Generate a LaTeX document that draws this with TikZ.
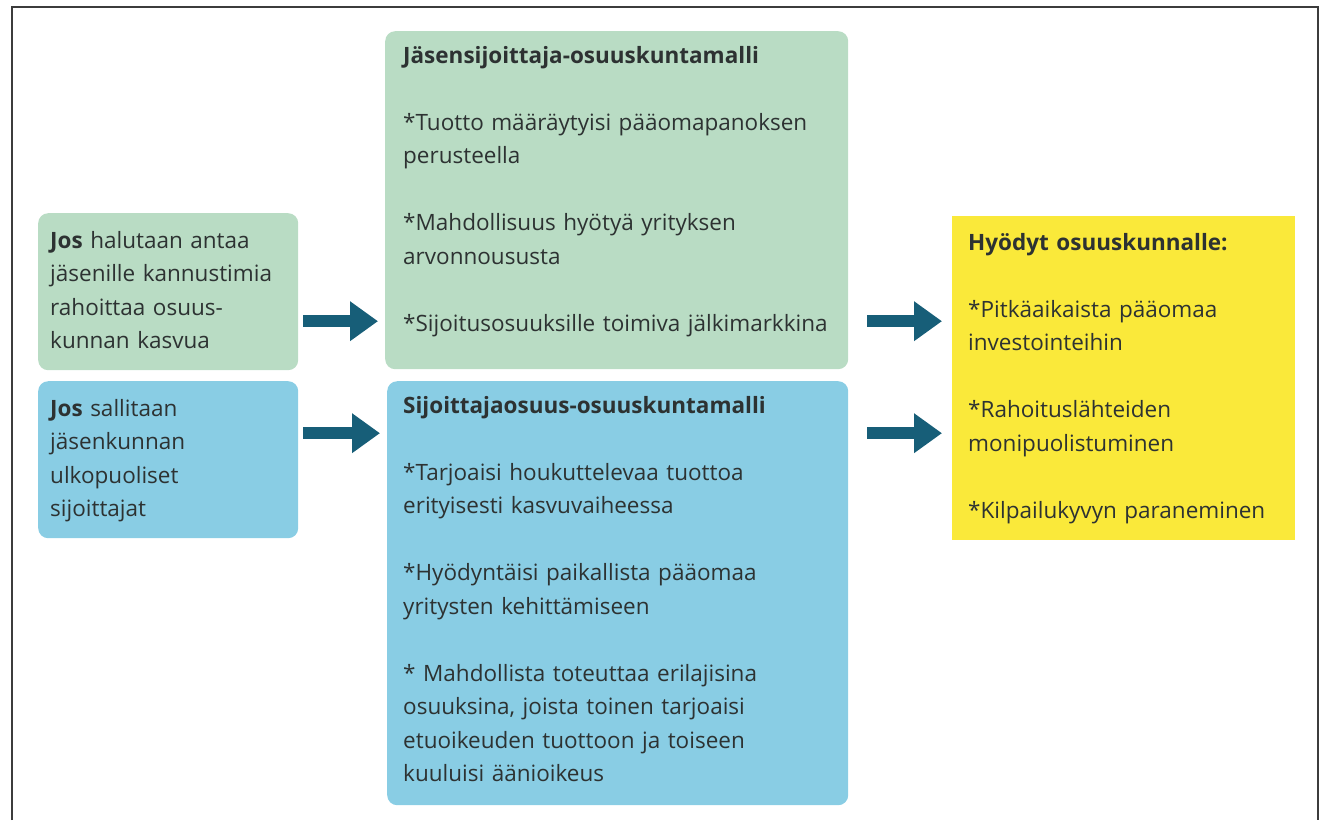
\documentclass[tikz,border=0pt]{standalone}
\usepackage{fontspec}
\setmainfont[Ligatures=NoCommon]{Open Sans}
\usetikzlibrary{arrows.meta, positioning}
\usepackage{xcolor}
\definecolor{vihrea}{RGB}{185, 220, 196}
\definecolor{sininen}{RGB}{137, 205, 228}
\definecolor{keltainen}{RGB}{250, 233, 58}
\definecolor{petrooli}{RGB}{23, 94, 120}
\definecolor{tumma}{RGB}{45, 50, 50}
\definecolor{kehys}{RGB}{60, 60, 60}

\begin{document}
\begin{tikzpicture}[
    x=1pt, y=-1pt,
    laatikko/.style={
        anchor=north west,
        inner sep=0pt,
        rounded corners=10pt
    },
    vihreaL/.style={laatikko, fill=vihrea},
    sininenL/.style={laatikko, fill=sininen},
    keltainenL/.style={laatikko, fill=keltainen, sharp corners},
    teksti/.style={
        anchor=base west,
        inner sep=0pt,
        align=left,
        text=tumma,
        font=\fontsize{22.5pt}{33.5pt}\selectfont
    },
    nuoli/.style={
        draw=petrooli,
        line width=12pt,
        -{Triangle[length=28pt, width=38pt]}
    }
]
\useasboundingbox (0,0) rectangle (1321,820);

% Kehys
\draw[kehys, line width=1.5pt] (12,820) -- (12,7) -- (1318,7) -- (1318,820);

% Ehdot
\node[vihreaL, minimum width=260pt, minimum height=157pt] (ehtoJ) at (38,213) {};
\node[teksti, text width=245pt] (ehtoJt) at ([xshift=12pt, yshift=-35pt]ehtoJ.north west)
{
    \textbf{Jos} halutaan antaa\\
    jäsenille kannustimia\\
    rahoittaa osuus-\\
    kunnan kasvua
};

\node[sininenL, minimum width=260pt, minimum height=157pt] (ehtoS) at (38,381) {};
\node[teksti, text width=245pt] (ehtoSt) at ([xshift=12pt, yshift=-35pt]ehtoS.north west)
{
    \textbf{Jos} sallitaan\\
    jäsenkunnan\\
    ulkopuoliset\\
    sijoittajat
};

% Mallit
\node[vihreaL, minimum width=463pt, minimum height=338pt] (malliJ) at (385,31) {};
\node[teksti, text width=440pt] (malliJt) at ([xshift=18pt, yshift=-32pt]malliJ.north west)
{
    \textbf{Jäsensijoittaja-osuuskuntamalli}\\[33.5pt]
    *Tuotto määräytyisi pääomapanoksen\\
    perusteella\\[33.5pt]
    *Mahdollisuus hyötyä yrityksen\\
    arvonnoususta\\[33.5pt]
    *Sijoitusosuuksille toimiva jälkimarkkina
};

\node[sininenL, minimum width=461pt, minimum height=424pt] (malliS) at (387,381) {};
\node[teksti, text width=440pt] (malliSt) at ([xshift=16pt, yshift=-32pt]malliS.north west)
{
    \textbf{Sijoittajaosuus-osuuskuntamalli}\\[33.5pt]
    *Tarjoaisi houkuttelevaa tuottoa\\
    erityisesti kasvuvaiheessa\\[33.5pt]
    *Hyödyntäisi paikallista pääomaa\\
    yritysten kehittämiseen\\[33.5pt]
    * Mahdollista toteuttaa erilajisina\\
    osuuksina, joista toinen tarjoaisi\\
    etuoikeuden tuottoon ja toiseen\\
    kuuluisi äänioikeus
};

% Hyödyt
\node[keltainenL, minimum width=343pt, minimum height=324pt] (hyodyt) at (952,216) {};
\node[teksti, text width=320pt] (hyodytt) at ([xshift=16pt, yshift=-34pt]hyodyt.north west)
{
    \textbf{Hyödyt osuuskunnalle:}\\[33.5pt]
    *Pitkäaikaista pääomaa\\
    investointeihin\\[33.5pt]
    *Rahoituslähteiden\\
    monipuolistuminen\\[33.5pt]
    *Kilpailukyvyn paraneminen
};

% Nuolet
\draw[nuoli, shorten <=5pt, shorten >=7pt]
    ([yshift=-29.5pt]ehtoJ.east) -- ([yshift=-29.5pt]ehtoJ.east -| malliJ.west);
\draw[nuoli, shorten <=5pt, shorten >=7pt]
    ([yshift=26.5pt]ehtoS.east) -- ([yshift=26.5pt]ehtoS.east -| malliS.west);
\draw[nuoli, shorten <=19pt, shorten >=10pt]
    ([yshift=-121pt]malliJ.east) -- ([yshift=-121pt]malliJ.east -| hyodyt.west);
\draw[nuoli, shorten <=19pt, shorten >=10pt]
    ([yshift=160pt]malliS.east) -- ([yshift=160pt]malliS.east -| hyodyt.west);

\end{tikzpicture}
\end{document}
